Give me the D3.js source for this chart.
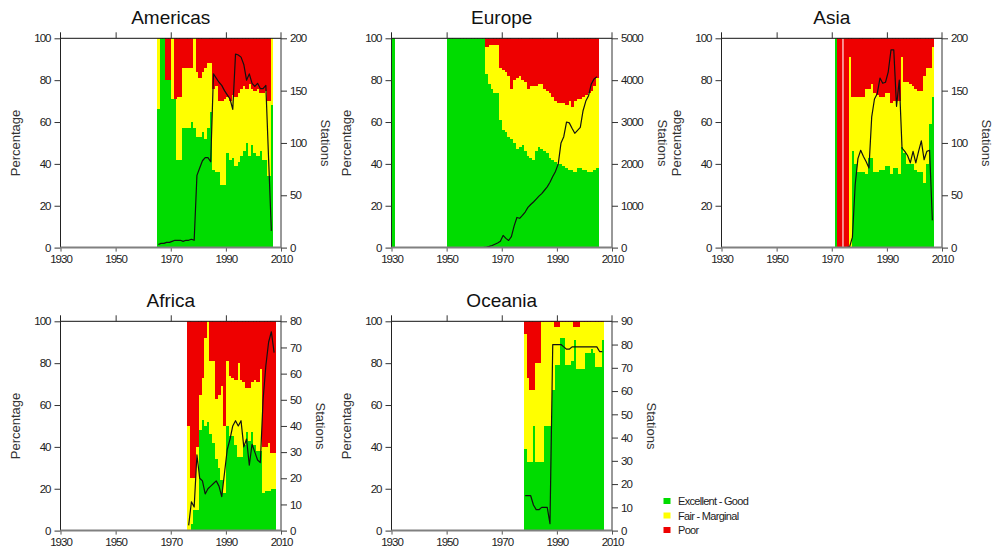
<!DOCTYPE html>
<html><head><meta charset="utf-8">
<script src="https://cdn.jsdelivr.net/npm/d3@7"></script>
<style>
body{margin:0;background:#fff;}
svg{display:block;font-family:"Liberation Sans",Arial,sans-serif;}
</style></head>
<body><svg id="chart" width="994" height="554"></svg>
<script>
// ---------------- DATA ----------------
const xTicks = [1930, 1950, 1970, 1990, 2010];
const pctTicks = [0, 20, 40, 60, 80, 100];
const legendLabels = ["Excellent - Good", "Fair - Marginal", "Poor"];

// Americas: yearly bars from 1965
const amStart = 1965;
const amGood = [66,100,100,80,80,71,71,42,42,57,57,57,60,57,53,53,55,52,57,65,37,36,36,30,30,45,42,43,39,41,44,46,50,44,49,45,44,46,42,42,34,68];
const amGoodFair = [100,100,100,80,80,100,71,72,72,86,86,86,86,100,84,81,84,86,88,88,76,77,70,70,71,72,70,73,72,74,76,77,76,78,76,75,76,74,74,75,70,100];
const amStations = [3,4,4,5,5,6,7,7,7,6,7,7,8,7,69,76,83,86,86,82,166,162,158,155,150,146,142,132,185,184,182,175,160,166,157,154,157,152,152,155,85,16];
const amStationTicks = [0, 50, 100, 150, 200];

// Europe: isolated early bar and yearly bars from 1950
const euEarlyStart = 1930;
const euEarlyGood = [100];
const euEarlyGoodFair = [100];
const euStart = 1950;
const euGood = [100,100,100,100,100,100,100,100,100,100,100,100,100,100,83,78,76,74,74,61,56,55,53,52,50,47,48,49,46,44,43,42,46,48,47,46,45,43,42,41,40,40,39,38,37,37,36,38,38,37,37,36,36,37,38];
const euGoodFair = [100,100,100,100,100,100,100,100,100,100,100,100,100,100,96,97,97,97,97,86,85,84,82,76,80,81,82,80,79,76,77,77,77,78,78,76,75,74,72,70,69,69,69,68,70,67,70,71,71,72,73,74,75,77,81];
const euStations = [0,0,0,0,0,0,0,0,0,0,0,0,0,5,15,30,50,80,110,150,290,220,170,260,520,720,700,770,850,960,1030,1090,1160,1230,1290,1370,1450,1560,1700,1820,2000,2500,2650,3000,2980,2850,2730,2800,2870,3270,3500,3630,3910,4030,4080];
const euStationTicks = [0, 1000, 2000, 3000, 4000, 5000];

// Asia: yearly bars from 1971
const asStart = 1971;
const asGood = [100,0,0,0,0,0,46,40,36,36,36,35,43,43,36,36,37,37,39,39,35,38,38,35,48,45,40,40,40,37,36,36,31,40,59,72];
const asGoodFair = [100,0,0,0,0,91,72,72,72,72,72,76,76,78,74,73,72,72,74,74,69,70,70,70,91,79,79,78,77,76,75,75,82,86,86,96];
const asStations = [0,0,0,0,0,1,10,60,85,93,87,82,76,125,142,147,162,157,158,168,189,189,135,160,95,92,88,81,92,81,92,102,84,92,93,26];
const asStationTicks = [0, 50, 100, 150, 200];
const asGapYears = [1974];

// Africa: yearly bars from 1976
const afStart = 1976;
const afGood = [0,3,10,10,48,53,50,52,46,42,34,30,24,18,50,45,45,41,35,35,41,47,43,47,41,38,38,18,19,19,20,20];
const afGoodFair = [50,25,25,40,65,73,92,100,81,81,63,65,69,50,81,74,73,72,80,72,71,68,68,71,72,71,77,40,40,42,37,37];
const afStations = [2,11,9,29,20,19,14,16,17,18,19,17,13,22,31,35,40,42,40,42,32,35,25,33,30,27,26,50,63,72,76,68];
const afStationTicks = [0, 10, 20, 30, 40, 50, 60, 70, 80];

// Oceania: yearly bars from 1978
const ocStart = 1978;
const ocGood = [39,33,33,50,33,33,33,50,50,50,67,79,79,92,92,79,79,81,91,77,77,77,85,85,87,85,78,78,91];
const ocGoodFair = [94,73,67,67,80,80,99.5,99.5,99.5,99.5,99.5,97.5,97.5,99.5,99.5,99.5,99.5,99.5,97.5,97.5,99.5,99.5,99.5,99.5,99.5,99.5,99.5,99.5,99.5];
const ocStations = [15,15,15,11,9,9,10,10,10,3,80,80,80,80,79,78,78,79,79,79,79,79,79,79,79,79,79,77,77];
const ocStationTicks = [0, 10, 20, 30, 40, 50, 60, 70, 80, 90];

// ---------------- LAYOUT / STYLE ----------------
const colors = {good: "#00dc00", fair: "#ffff00", poor: "#ee0000"};
const colX = [60.5, 391.5, 721.5];
const rowY = [38.3, 321.3];
const W = 220.5, H = 209.3;

const panels = [
  {title: "Americas", col: 0, row: 0, groups: [{start: amStart, good: amGood, gf: amGoodFair}], lineStart: amStart, stations: amStations, stTicks: amStationTicks, gaps: []},
  {title: "Europe", col: 1, row: 0, groups: [{start: euEarlyStart, good: euEarlyGood, gf: euEarlyGoodFair}, {start: euStart, good: euGood, gf: euGoodFair}], lineStart: euStart, stations: euStations, stTicks: euStationTicks, gaps: []},
  {title: "Asia", col: 2, row: 0, groups: [{start: asStart, good: asGood, gf: asGoodFair}], lineStart: asStart, stations: asStations, stTicks: asStationTicks, gaps: asGapYears},
  {title: "Africa", col: 0, row: 1, groups: [{start: afStart, good: afGood, gf: afGoodFair}], lineStart: afStart, stations: afStations, stTicks: afStationTicks, gaps: []},
  {title: "Oceania", col: 1, row: 1, groups: [{start: ocStart, good: ocGood, gf: ocGoodFair}], lineStart: ocStart, stations: ocStations, stTicks: ocStationTicks, gaps: []}
];

const svg = d3.select("#chart");
const defs = svg.append("defs");

panels.forEach((p, pi) => {
  const g = svg.append("g").attr("transform", `translate(${colX[p.col]},${rowY[p.row]})`);
  const x = d3.scaleLinear().domain([1930, 2010]).range([0, W]);
  const y = d3.scaleLinear().domain([0, 100]).range([H, 0]);
  const y2 = d3.scaleLinear().domain([0, d3.max(p.stTicks)]).range([H, 0]);

  defs.append("clipPath").attr("id", "clip" + pi)
    .append("rect").attr("x", 0).attr("y", 0).attr("width", W).attr("height", H);

  const plot = g.append("g").attr("clip-path", `url(#clip${pi})`);

  // stacked bars
  p.groups.forEach(grp => {
    const rows = grp.good.map((v, i) => ({year: grp.start + i, good: v, gf: grp.gf[i]}));
    const bw = d => x(d.year + 1) - x(d.year) + 0.6;
    const layers = [
      {lo: d => 0, hi: d => d.good, color: colors.good},
      {lo: d => d.good, hi: d => d.gf, color: colors.fair},
      {lo: d => d.gf, hi: d => 100, color: colors.poor}
    ];
    layers.forEach(L => {
      plot.append("g").attr("shape-rendering", "crispEdges").selectAll("rect")
        .data(rows.filter(d => L.hi(d) - L.lo(d) > 0))
        .join("rect")
        .attr("x", d => x(d.year))
        .attr("width", bw)
        .attr("y", d => y(L.hi(d)))
        .attr("height", d => y(L.lo(d)) - y(L.hi(d)))
        .attr("fill", L.color);
    });
  });

  // gaps (thin white separators)
  plot.append("g").selectAll("line").data(p.gaps).join("line")
    .attr("x1", d => x(d) + 0.2).attr("x2", d => x(d) + 0.2)
    .attr("y1", 0).attr("y2", H)
    .attr("stroke", "#fff").attr("stroke-width", 1.1);

  // station line
  const line = d3.line()
    .x((d, i) => x(p.lineStart + i + 0.5))
    .y(d => y2(d));
  plot.append("path").datum(p.stations)
    .attr("d", line).attr("fill", "none")
    .attr("stroke", "#111").attr("stroke-width", 1.2)
    .attr("stroke-linejoin", "round");

  // frame lines
  g.append("line").attr("x1", 0).attr("x2", W).attr("y1", 0).attr("y2", 0)
    .attr("stroke", "#111").attr("stroke-width", 1);
  g.append("line").attr("x1", 0).attr("x2", 0).attr("y1", -6).attr("y2", H)
    .attr("stroke", "#222").attr("stroke-width", 1);
  g.append("line").attr("x1", W).attr("x2", W).attr("y1", -6).attr("y2", H)
    .attr("stroke", "#333").attr("stroke-width", 1);

  // left axis
  const la = g.append("g").call(d3.axisLeft(y).tickValues(pctTicks).tickSize(6).tickPadding(4));
  la.select(".domain").remove();
  // right axis
  const ra = g.append("g").attr("transform", `translate(${W},0)`)
    .call(d3.axisRight(y2).tickValues(p.stTicks).tickSize(6).tickPadding(3).tickFormat(d3.format("d")));
  ra.select(".domain").remove();
  // top ticks
  const ta = g.append("g").call(d3.axisTop(x).tickValues(xTicks.slice(1, -1)).tickSize(6).tickFormat(""));
  ta.select(".domain").remove();
  // bottom axis
  const ba = g.append("g").attr("transform", `translate(0,${H})`)
    .call(d3.axisBottom(x).tickValues(xTicks).tickSize(4).tickPadding(3).tickFormat(d3.format("d")));
  ba.select(".domain").remove();
  ba.selectAll(".tick line").attr("stroke", "#555");
  g.append("line").attr("x1", 0).attr("x2", W).attr("y1", H).attr("y2", H)
    .attr("stroke", "#808080").attr("stroke-width", 2);

  [la, ra, ta].forEach(a => a.selectAll(".tick line").attr("stroke", "#333"));
  [la, ra, ba].forEach(a => a.selectAll(".tick text")
    .attr("font-size", 11.5).attr("letter-spacing", "-1px")
    .attr("font-family", '"Liberation Sans",Arial,sans-serif').attr("fill", "#222"));

  // title
  g.append("text").attr("x", W / 2).attr("y", -14).attr("text-anchor", "middle")
    .attr("font-size", 19).attr("fill", "#111").text(p.title);

  // axis titles
  g.append("text").attr("transform", `translate(-41,${H / 2}) rotate(-90)`)
    .attr("text-anchor", "middle").attr("font-size", 13).attr("fill", "#333").text("Percentage");
  let maxW = 0;
  ra.selectAll(".tick text").each(function () { maxW = Math.max(maxW, this.getComputedTextLength()); });
  g.append("text").attr("transform", `translate(${W + 9 + maxW + 15},${H / 2}) rotate(90)`)
    .attr("text-anchor", "middle").attr("font-size", 13).attr("fill", "#333").text("Stations");
});

// legend
const legendColors = [colors.good, colors.fair, colors.poor];
const lg = svg.append("g").attr("transform", "translate(663.5,501)");
const li = lg.selectAll("g").data(legendLabels).join("g")
  .attr("transform", (d, i) => `translate(0,${i * 14.5})`);
li.append("rect").attr("x", 0).attr("y", -3).attr("width", 7).attr("height", 6)
  .attr("fill", (d, i) => legendColors[i]);
li.append("text").attr("x", 14.5).attr("y", 4).attr("font-size", 11)
  .attr("letter-spacing", "-0.7px").attr("fill", "#222").text(d => d);
</script>
</body></html>
